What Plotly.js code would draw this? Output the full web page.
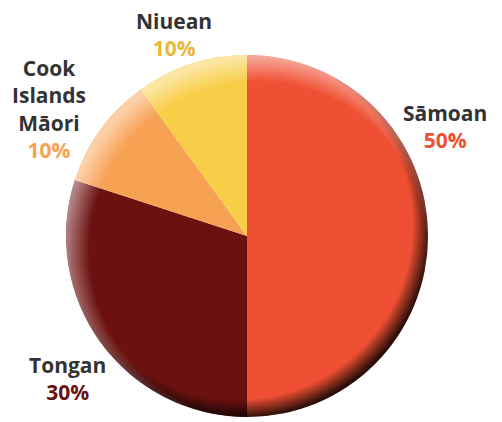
<!DOCTYPE html>
<html>
<head>
<meta charset="utf-8">
<script src="https://cdn.plot.ly/plotly-3.0.1.min.js"></script>
<style>html,body{margin:0;padding:0;background:#fff;}#chart{width:502px;height:422px;}</style>
</head>
<body>
<div id="chart"></div>
<script>
const labels = ["Sāmoan", "Tongan", "Cook Islands Māori", "Niuean"];
const displayNames = ["Sāmoan", "Tongan", "Cook<br>Islands<br>Māori", "Niuean"];
const values = [50, 30, 10, 10];
const sliceColors = ["#ef4f32", "#6b1211", "#f7a153", "#f8cd47"];
const pctColors = ["#ef4f32", "#6b1211", "#f7a153", "#e9b83b"];

const W = 502, H = 422;
const cx = 247, cy = 236, r = 181;
const dom = {
  x: [(cx - r) / W, (cx + r) / W],
  y: [(H - cy - r) / H, (H - cy + r) / H]
};

// label anchor positions (px, centre of each text block)
const labelPos = [[445, 127], [67, 378], [49, 109], [174, 34]];

const annotations = labels.map((l, i) => ({
  xref: 'paper', yref: 'paper',
  x: labelPos[i][0] / W, y: 1 - labelPos[i][1] / H,
  xanchor: 'center', yanchor: 'middle',
  showarrow: false, align: 'center',
  text: displayNames[i] + "<br><span style='color:" + pctColors[i] + "'>" + values[i] + "%</span>",
  font: {family: 'Open Sans', size: 21, weight: 700, color: '#333333'}
}));

const svg = `<svg xmlns="http://www.w3.org/2000/svg" viewBox="0 0 100 100" width="400" height="400">
<defs>
<radialGradient id="d" cx="47.5" cy="47" r="53.5" gradientUnits="userSpaceOnUse">
<stop offset="0.9" stop-color="#000" stop-opacity="0"/>
<stop offset="1" stop-color="#000" stop-opacity="0.85"/>
</radialGradient>
<radialGradient id="l" cx="53" cy="54" r="53.5" gradientUnits="userSpaceOnUse">
<stop offset="0.87" stop-color="#fff" stop-opacity="0"/>
<stop offset="1" stop-color="#fff" stop-opacity="0.5"/>
</radialGradient>
</defs>
<circle cx="50" cy="50" r="50" fill="url(#d)"/>
<circle cx="50" cy="50" r="50" fill="url(#l)"/>
</svg>`;
const src = "data:image/svg+xml;charset=utf-8," + encodeURIComponent(svg);

Plotly.newPlot('chart', [{
  type: 'pie',
  labels: labels,
  values: values,
  sort: false,
  direction: 'clockwise',
  rotation: 0,
  marker: {colors: sliceColors, line: {width: 0}},
  textinfo: 'none',
  hoverinfo: 'none',
  domain: dom,
  showlegend: false
}], {
  width: W, height: H,
  margin: {l: 0, r: 0, t: 0, b: 0},
  paper_bgcolor: '#ffffff',
  showlegend: false,
  annotations: annotations,
  images: [{
    source: src, xref: 'paper', yref: 'paper',
    x: dom.x[0], y: dom.y[1], sizex: dom.x[1] - dom.x[0], sizey: dom.y[1] - dom.y[0],
    xanchor: 'left', yanchor: 'top', sizing: 'stretch', layer: 'above'
  }]
}, {staticPlot: true});
</script>
</body>
</html>
